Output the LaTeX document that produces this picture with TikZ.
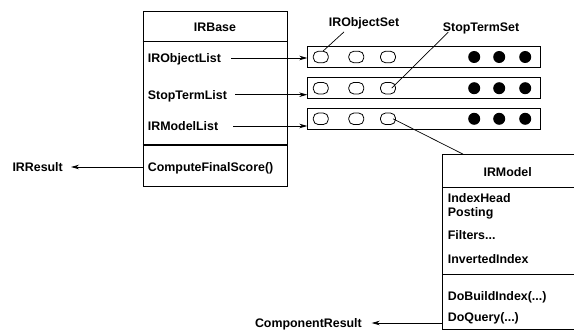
\documentclass[tikz,border=0pt]{standalone}
\usepackage{fontspec}
\setmainfont{Liberation Sans}
\usetikzlibrary{arrows.meta,positioning}

\begin{document}
\begin{tikzpicture}[x=1pt,y=-1pt,
  lbl/.style={font=\bfseries\fontsize{12.4}{14}\selectfont,inner sep=0pt,
    text height=8.8pt,text depth=0pt},
  arr/.style={-{Stealth[length=8pt,width=4.5pt,inset=2.5pt]},line width=0.8pt},
  lead/.style={line width=0.7pt},
  edge/.style={line width=1.1pt},
  box/.style={draw,line width=1.1pt,inner sep=0pt,anchor=north west},
  setrow/.style={draw,line width=1pt,minimum width=233pt,minimum height=21pt,inner sep=0pt},
  slot/.style={draw,line width=0.8pt,rounded corners=5pt,minimum width=15pt,
    minimum height=11.5pt,inner sep=0pt},
  dot/.style={circle,fill,minimum size=12pt,inner sep=0pt}]
  \useasboundingbox (0,0) rectangle (575,331);

  % IRBase class
  \node[box,minimum width=144.6pt,minimum height=175.3pt] (basebox) at (142.7,10.7) {};
  \draw[edge] (basebox.west |- 0,41.7) -- (basebox.east |- 0,41.7);
  \draw[edge] (basebox.west |- 0,145) -- (basebox.east |- 0,145);
  \node[lbl] (irbase) at (215,26.8) {IRBase};
  \node[lbl,anchor=west] (objlist) at (147.7,58) {IRObjectList};
  \node[lbl,anchor=west] (stoplist) at (147.7,94.7) {StopTermList};
  \node[lbl,anchor=west] (modlist) at (147.7,126) {IRModelList};
  \node[lbl,anchor=west] (score) at (147.7,167) {ComputeFinalScore()};
  \node[lbl,anchor=east] (result) at (63,167) {IRResult};
  \draw[arr] (score -| basebox.west) -- ([xshift=8pt]result.east);

  % the three sets
  \foreach \r/\y in {1/57,2/88.2,3/118.8} {
    \node[setrow] (row\r) at (424.3,\y) {};
    \foreach \n/\x in {a/320.8,b/356.3,c/388}
      \node[slot] (s\r\n) at (\x,\y) {};
    \foreach \x in {474.2,499.2,525.2}
      \node[dot] at (\x,\y) {};
  }
  \draw[arr,shorten <=10pt] (objlist.east) -- (objlist.east -| row1.west);
  \draw[arr,shorten <=8pt] (stoplist.east) -- (stoplist.east -| row2.west);
  \draw[arr,shorten <=15pt] (modlist.east) -- (modlist.east -| row3.west);

  % set labels
  \node[lbl] (objset) at (364,22.5) {IRObjectSet};
  \node[lbl] (stopset) at (481,27.5) {StopTermSet};
  \draw[lead] ([shift={(-20,4.8)}]objset.south) -- ([xshift=2.5pt]s1a.north);
  \draw[lead] ([xshift=-32.7pt]stopset.south) -- ([xshift=3.7pt]s2c.center);

  % IRModel class, open on the right
  \coordinate (modelbox) at (442.3,154.3);
  \draw[edge] (574,154.3) -- (442.3,154.3) -- (442.3,329.3) -- (574,329.3);
  \draw[edge] (442.3,187.7) -- (574,187.7);
  \draw[edge] (442.3,274.3) -- (574,274.3);
  \draw[lead] ([xshift=5pt]s3c.center) -- ([xshift=21pt]modelbox);
  \node[lbl] (irmodel) at (507.7,172.5) {IRModel};
  \node[lbl,anchor=west] (ihead) at (447.7,198.5) {IndexHead};
  \node[lbl,anchor=west] (posting) at (447.7,212.5) {Posting};
  \node[lbl,anchor=west] (filters) at (447.7,235.5) {Filters...};
  \node[lbl,anchor=west] (invidx) at (447.7,259.2) {InvertedIndex};
  \node[lbl,anchor=west] (build) at (447.7,296.2) {DoBuildIndex(...)};
  \node[lbl,anchor=west] (query) at (447.7,317) {DoQuery(...)};
  \node[lbl,anchor=east] (comp) at (362,323) {ComponentResult};
  \draw[arr] (comp -| modelbox) -- ([xshift=9.7pt]comp.east);
\end{tikzpicture}
\end{document}
